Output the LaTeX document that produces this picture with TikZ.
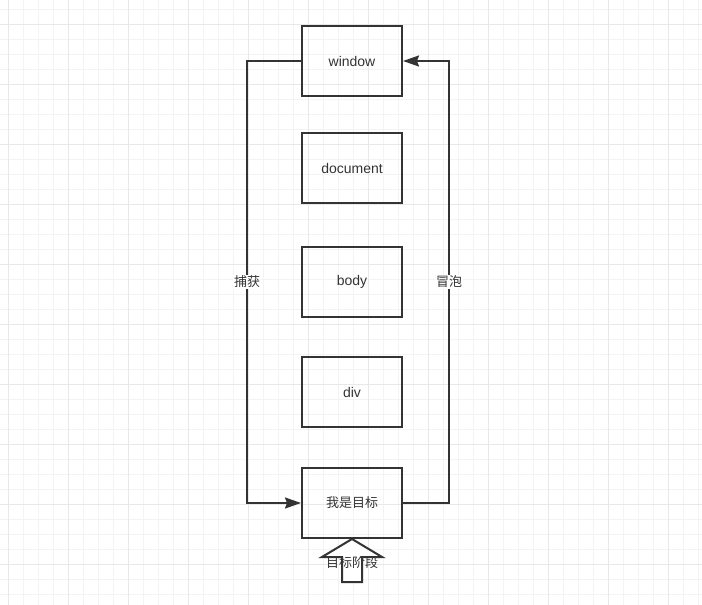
\documentclass[tikz,border=0pt]{standalone}
\usepackage{fontspec}
\setmainfont{Liberation Sans}
\newfontfamily\cjk{Noto Sans CJK SC}
\usetikzlibrary{positioning, calc, arrows.meta}
\definecolor{ink}{HTML}{333333}
\definecolor{gridminor}{HTML}{F3F3F3}
\definecolor{gridmajor}{HTML}{E8E8E8}

\begin{document}
\begin{tikzpicture}[
    x=1pt, y=-1pt,
    font=\fontsize{14}{16}\selectfont]

  \tikzset{elem/.style={draw=ink, line width=2pt, minimum width=100pt, minimum height=70pt, inner sep=0pt, text=ink}}
  \tikzset{flow/.style={draw=ink, line width=2pt, -{Stealth[length=16pt, width=11pt, inset=2pt]}}}
  \tikzset{phase/.style={fill=white, text=ink, inner sep=1pt, font=\cjk\fontsize{13}{15}\selectfont}}

  % grid
  \fill[white] (0,0) rectangle (702,605);
  \useasboundingbox (0,0) rectangle (702,605);
  \foreach \gx in {8.5,23.5,...,702} \draw[gridminor, line width=1pt] (\gx,0) -- (\gx,605);
  \foreach \gy in {9.5,24.5,...,605} \draw[gridminor, line width=1pt] (0,\gy) -- (702,\gy);
  \foreach \gx in {8.5,68.5,...,702} \draw[gridmajor, line width=1pt] (\gx,0) -- (\gx,605);
  \foreach \gy in {24.5,84.5,...,605} \draw[gridmajor, line width=1pt] (0,\gy) -- (702,\gy);

  % elements
  \node[elem] at (352, 61) (win) {window};
  \node[elem, below=35pt of win] (doc) {document};
  \node[elem, below=42pt of doc] (body) {body};
  \node[elem, below=38pt of body] (div) {div};
  \node[elem, below=39pt of div, font=\cjk\fontsize{13}{15}\selectfont] (tgt) {我是目标};

  % capture
  \draw[flow] (win.west) -- ++(-54,0) |- (tgt.west) node[phase, pos=0.25] (cap) {捕获};

  % bubble
  \draw[flow] (tgt.east) -- ++(46,0) |- (win.east) node[phase, pos=0.25] (bub) {冒泡};

  % target phase
  \draw[ink, line width=2pt, fill=white] (tgt.south) -- ++(30,18) -- ++(-20,0) -- ++(0,25)
    -- ++(-20,0) -- ++(0,-25) -- ++(-20,0) -- cycle;
  \node[text=ink, inner sep=0pt, font=\cjk\fontsize{13}{15}\selectfont] at ($(tgt.south)+(0,24)$) (tp) {目标阶段};
\end{tikzpicture}
\end{document}
